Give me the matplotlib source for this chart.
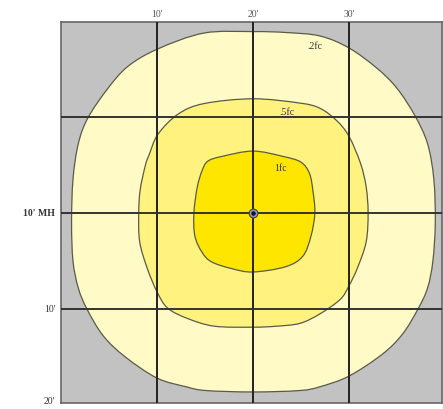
import numpy as np
import matplotlib
matplotlib.use("Agg")
import matplotlib.pyplot as plt
from matplotlib.path import Path
from matplotlib.patches import PathPatch

# Isofootcandle contours (feet from luminaire)
outer_x = [0, -5.1, -9.9, -13.0, -15.1, -17.2, -18.2, -18.75, -18.9, -18.75, -18.2, -17.3,
           -15.6, -13.3, -10, -7.0, -4.9, 0, 4.9, 7.0, 10, 13.5, 15.6, 17.2, 18.2, 18.75, 19.0,
           18.85, 18.2, 16.9, 15.0, 12.9, 10, 7.0, 3.5]
outer_y = [18.9, 18.75, 17.1, 15.3, 13.0, 9.9, 7.2, 3.5, -1.0, -5.0, -7.8, -10.0,
           -12.8, -15.0, -17.2, -18.1, -18.5, -18.65, -18.5, -18.1, -17.0, -14.7, -12.6, -10.0,
           -7.8, -5.0, -1.0, 3.5, 7.2, 10.1, 13.0, 15.1, 17.2, 18.44, 18.8]
mid_x = [0, -5.1, -7.8, -9.9, -10.8, -11.2, -11.75, -11.9, -11.8, -11.0, -10, -8.9, -6.8, -4.0,
         0, 2.4, 4.9, 7.0, 9.1, 10.0, 10.9, 11.8, 12.0, 11.8, 11.2, 10, 8.75, 7.0, 4.9]
mid_y = [11.9, 11.4, 10.3, 8.2, 6.1, 5.0, 2.4, 0, -3.0, -5.8, -8.2, -9.9, -11.0, -11.8,
         -11.9, -11.8, -11.5, -10.5, -9.0, -7.6, -5.7, -3.0, 0, 2.7, 5.2, 8.0, 9.6, 10.9, 11.45]
inner_x = [0, -3.2, -4.7, -5.3, -5.8, -6.15, -6.05, -5.3, -4.3, -2.2, 0, 3.4, 5.2, 6.05,
           6.45, 6.25, 5.9, 5.0, 3.1]
inner_y = [6.45, 5.9, 5.4, 4.4, 2.7, 0, -2.4, -4.1, -5.1, -5.8, -6.15, -5.6, -4.5, -2.4,
           0, 2.3, 4.1, 5.3, 5.9]

contour_labels = [".2fc", ".5fc", "1fc"]
label_pos = [(6.4, 17.5), (3.5, 10.6), (2.9, 4.7)]

x_ticks = [-10, 0, 10]
x_tick_labels = ["10'", "20'", "30'"]
y_ticks = [0, -10, -19.5]
y_tick_labels = ["10' MH", "10'", "20'"]

fills = ["#FFFAC6", "#FFF27E", "#FFE600"]
bg = "#C2C2C2"


def smooth_closed_path(xs, ys):
    pts = np.column_stack([xs, ys]).astype(float)
    n = len(pts)
    verts = [pts[0]]
    codes = [Path.MOVETO]
    for i in range(n):
        p0 = pts[(i - 1) % n]
        p1 = pts[i]
        p2 = pts[(i + 1) % n]
        p3 = pts[(i + 2) % n]
        c1 = p1 + (p2 - p0) / 6.0
        c2 = p2 - (p3 - p1) / 6.0
        verts += [c1, c2, p2]
        codes += [Path.CURVE4] * 3
    verts.append(pts[0])
    codes.append(Path.CLOSEPOLY)
    return Path(verts, codes)


fig = plt.figure(figsize=(4.43, 4.10), dpi=100)
W, H = 443, 410
l, r, t, b = 61, 442, 23, 404
ax = fig.add_axes([l / W, 1 - b / H, (r - l) / W, (b - t) / H])
ax.set_xlim(-20, 19.7)
ax.set_ylim(-19.8, 19.9)
ax.set_facecolor(bg)

for (xs, ys), fc in zip([(outer_x, outer_y), (mid_x, mid_y), (inner_x, inner_y)], fills):
    p = smooth_closed_path(xs, ys)
    ax.add_patch(PathPatch(p, facecolor=fc, edgecolor="#5a5a48", lw=0.9, zorder=2))

for v in x_ticks:
    ax.axvline(v, color="#222222", lw=1.4, zorder=3)
for v in [10, 0, -10]:
    ax.axhline(v, color="#333333", lw=1.4, zorder=3)

ax.scatter([0], [0], s=40, facecolor="#9098b0", edgecolor="#444444", lw=0.8, zorder=4)
ax.scatter([0], [0], s=5, color="#111133", zorder=5)

for txt, (px, py) in zip(contour_labels, label_pos):
    ax.text(px, py, txt, fontsize=7, family="Liberation Serif", color="#333333",
            ha="center", va="center", zorder=5)

ax.set_xticks([])
ax.set_yticks([])
for s in ax.spines.values():
    s.set_color("#666666")
    s.set_linewidth(1.2)

for v, lab in zip(x_ticks, x_tick_labels):
    ax.text(v, 1.01, lab, transform=ax.get_xaxis_transform(), ha="center", va="bottom",
            fontsize=7, family="Liberation Serif", color="#555555")
for v, lab in zip(y_ticks, y_tick_labels):
    ax.text(-0.015, v, lab, transform=ax.get_yaxis_transform(), ha="right", va="center",
            fontsize=7, family="Liberation Serif", color="#333333",
            fontweight="bold" if "MH" in lab else "normal")

fig.savefig("out.png", dpi=100)
